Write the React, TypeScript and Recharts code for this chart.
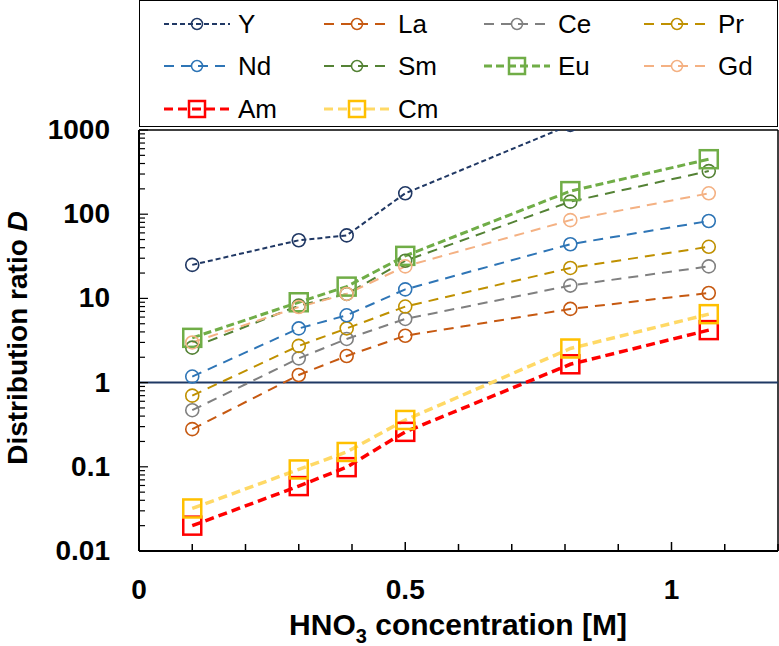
import React from "react";
import { LineChart, Line, XAxis, YAxis, ReferenceLine } from "recharts";

// HNO3 concentration [M] at which D was measured
const concentrations = [0.1, 0.3, 0.39, 0.5, 0.81, 1.07];

// distribution ratios per element
const dY = [25, 49, 56, 177, 1150, 2500];
const dLa = [0.28, 1.23, 2.07, 3.6, 7.5, 11.6];
const dCe = [0.47, 1.94, 3.3, 5.7, 14.2, 24];
const dPr = [0.7, 2.73, 4.4, 8.0, 23, 41];
const dNd = [1.18, 4.4, 6.3, 12.8, 44, 83];
const dSm = [2.6, 8.2, 11.3, 28, 141, 325];
const dEu = [3.4, 9.0, 13.8, 32, 188, 450];
const dGd = [3.0, 7.9, 11.3, 24, 85, 177];
const dAm = [0.02, 0.059, 0.099, 0.26, 1.65, 4.2];
const dCm = [0.032, 0.093, 0.15, 0.36, 2.54, 6.5];

const xTicks = [0, 0.1, 0.2, 0.3, 0.4, 0.5, 0.6, 0.7, 0.8, 0.9, 1, 1.1, 1.2];
const xTickLabels: Record<string, string> = { "0": "0", "0.5": "0.5", "1": "1" };
const yDecades = [0.01, 0.1, 1, 10, 100, 1000];
const yTickLabels = ["0.01", "0.1", "1", "10", "100", "1000"];

// minor ticks 2..9 within each decade
const yTicks: number[] = [];
yDecades.forEach((d, i) => {
  yTicks.push(d);
  if (i < yDecades.length - 1) {
    for (let m = 2; m <= 9; m++) yTicks.push(+(d * m).toPrecision(3));
  }
});

type Series = {
  key: string;
  values: number[];
  color: string;
  marker: string;
  shape: "circle" | "square";
  dash: string;
  width: number;
};

const series: Series[] = [
  { key: "Y", values: dY, color: "#203864", marker: "#203864", shape: "circle", dash: "5 3", width: 2 },
  { key: "La", values: dLa, color: "#C65911", marker: "#C65911", shape: "circle", dash: "10 7", width: 2 },
  { key: "Ce", values: dCe, color: "#808080", marker: "#808080", shape: "circle", dash: "10 7", width: 2 },
  { key: "Pr", values: dPr, color: "#BF9000", marker: "#BF9000", shape: "circle", dash: "10 7", width: 2 },
  { key: "Nd", values: dNd, color: "#2E75B6", marker: "#2E75B6", shape: "circle", dash: "10 7", width: 2 },
  { key: "Sm", values: dSm, color: "#548235", marker: "#548235", shape: "circle", dash: "10 7", width: 2 },
  { key: "Eu", values: dEu, color: "#70AD47", marker: "#70AD47", shape: "square", dash: "8 4", width: 3 },
  { key: "Gd", values: dGd, color: "#F4B183", marker: "#F4B183", shape: "circle", dash: "10 7", width: 2 },
  { key: "Am", values: dAm, color: "#FF0000", marker: "#FF0000", shape: "square", dash: "9 5", width: 3.5 },
  { key: "Cm", values: dCm, color: "#FFD966", marker: "#FFC000", shape: "square", dash: "9 5", width: 3.5 },
];

const data = concentrations.map((x, i) => {
  const row: Record<string, number> = { x };
  series.forEach((s) => (row[s.key] = s.values[i]));
  return row;
});

const FONT = "Arial, 'Liberation Sans', sans-serif";

const makeDot = (s: Series) => (props: any) => {
  const { cx, cy, index } = props;
  const k = `${s.key}-${index}`;
  if (cx == null || cy == null) return <g key={k} />;
  if (s.shape === "square") {
    return (
      <rect key={k} x={cx - 9} y={cy - 9} width={18} height={18} fill="none" stroke={s.marker} strokeWidth={2.5} />
    );
  }
  return <circle key={k} cx={cx} cy={cy} r={6.5} fill="none" stroke={s.marker} strokeWidth={1.6} />;
};

const XTick = (props: any) => {
  const { x, y, payload } = props;
  const key = String(+payload.value.toFixed(2));
  const label = xTickLabels[key];
  return (
    <g>
      <line x1={x} x2={x} y1={y} y2={y - (label ? 9 : 7)} stroke="#000" strokeWidth={1.5} />
      {label && (
        <text x={x} y={y + 48} textAnchor="middle" fontSize={28} fontWeight="bold" fontFamily={FONT} fill="#000">
          {label}
        </text>
      )}
    </g>
  );
};

const YTick = (props: any) => {
  const { x, y, payload } = props;
  const idx = yDecades.findIndex((d) => Math.abs(d - payload.value) < d * 1e-6);
  const major = idx >= 0;
  return (
    <g>
      <line x1={x} x2={x + (major ? 9 : 6)} y1={y} y2={y} stroke="#000" strokeWidth={1.2} />
      {major && (
        <text x={x - 29} y={y} dy={9} textAnchor="end" fontSize={28} fontWeight="bold" fontFamily={FONT} fill="#000">
          {yTickLabels[idx]}
        </text>
      )}
    </g>
  );
};

const LegendIcon = ({ s }: { s: Series }) => (
  <svg width={66} height={24} style={{ display: "block" }}>
    <line x1={0} x2={66} y1={12} y2={12} stroke={s.color} strokeWidth={s.width === 2 ? 2 : 3} strokeDasharray={s.dash} />
    {s.shape === "square" ? (
      <rect x={25} y={4} width={16} height={16} fill="none" stroke={s.marker} strokeWidth={2.5} />
    ) : (
      <circle cx={33} cy={12} r={5.5} fill="none" stroke={s.marker} strokeWidth={1.5} />
    )}
  </svg>
);

const legendCols = [163, 323, 483, 643];
const legendRows = [23, 65, 108];

function ChartLegend() {
  return (
    <div
      style={{
        position: "absolute",
        left: 139,
        top: 0,
        width: 639,
        height: 127,
        boxSizing: "border-box",
        border: "1.5px solid #000",
        background: "#fff",
      }}
    >
      {series.map((s, i) => (
        <div
          key={s.key}
          style={{
            position: "absolute",
            left: legendCols[i % 4] - 139,
            top: legendRows[Math.floor(i / 4)] - 15,
            height: 30,
            display: "flex",
            alignItems: "center",
            gap: 8,
            fontFamily: FONT,
            fontSize: 26,
            color: "#000",
          }}
        >
          <LegendIcon s={s} />
          <span>{s.key}</span>
        </div>
      ))}
    </div>
  );
}

export default function App() {
  return (
    <div style={{ position: "absolute", left: 0, top: 0, width: 779, height: 646, background: "#fff" }}>
      <LineChart width={779} height={646} data={data} margin={{ top: 130, right: 1, bottom: 0, left: 0 }}>
        <XAxis
          dataKey="x"
          type="number"
          domain={[0, 1.2]}
          ticks={xTicks}
          interval={0}
          height={95}
          tickSize={0}
          tickMargin={0}
          tickLine={false}
          axisLine={{ stroke: "#000", strokeWidth: 2 }}
          tick={<XTick />}
          label={{
            content: () => (
              <text x={458} y={635} textAnchor="middle" fontSize={30} fontWeight="bold" fontFamily={FONT} fill="#000">
                HNO
                <tspan dy={8} fontSize={20}>3</tspan>
                <tspan dy={-8}> concentration [M]</tspan>
              </text>
            ),
          }}
        />
        <YAxis
          type="number"
          scale="log"
          domain={[0.01, 1000]}
          allowDataOverflow
          ticks={yTicks}
          interval={0}
          width={139}
          tickSize={0}
          tickMargin={0}
          tickLine={false}
          axisLine={{ stroke: "#000", strokeWidth: 2 }}
          tick={<YTick />}
          label={{
            content: () => (
              <text
                x={0}
                y={0}
                transform="translate(27, 338) rotate(-90)"
                textAnchor="middle"
                fontSize={28}
                fontWeight="bold"
                fontFamily={FONT}
                fill="#000"
              >
                Distribution ratio <tspan fontStyle="italic">D</tspan>
              </text>
            ),
          }}
        />
        <ReferenceLine y={1000} stroke="#000" strokeWidth={1.5} />
        <ReferenceLine x={1.2} stroke="#000" strokeWidth={1.5} />
        <ReferenceLine y={1} stroke="#1F3864" strokeWidth={2} />
        {series.map((s) => (
          <Line
            key={s.key}
            dataKey={s.key}
            type="linear"
            stroke={s.color}
            strokeWidth={s.width}
            strokeDasharray={s.dash}
            dot={makeDot(s)}
            activeDot={false}
            isAnimationActive={false}
          />
        ))}
      </LineChart>
      <ChartLegend />
    </div>
  );
}
